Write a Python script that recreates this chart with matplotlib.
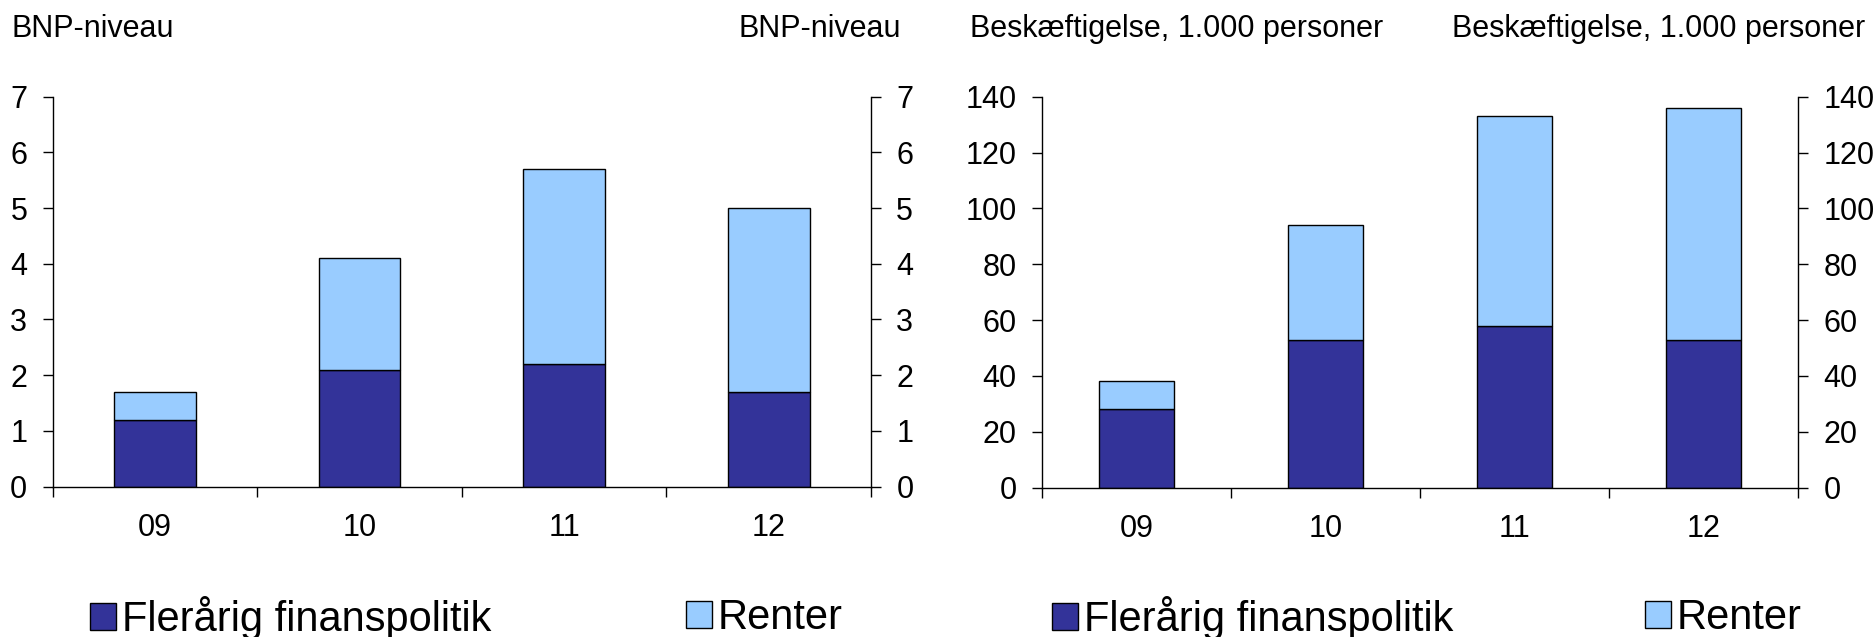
import matplotlib
matplotlib.use("Agg")
import matplotlib.pyplot as plt
import numpy as np

# ---- data ----
categories = ["09", "10", "11", "12"]
bnp_flerarig = [1.2, 2.1, 2.2, 1.7]
bnp_renter = [0.5, 2.0, 3.5, 3.3]
besk_flerarig = [28, 53, 58, 53]
besk_renter = [10, 41, 75, 83]
bnp_ticks = [0, 1, 2, 3, 4, 5, 6, 7]
besk_ticks = [0, 20, 40, 60, 80, 100, 120, 140]
series_names = ["Flerårig finanspolitik", "Renter"]
titles = ["BNP-niveau", "Beskæftigelse, 1.000 personer"]

DARK = "#333399"
LIGHT = "#99CCFF"
FONT = ["Liberation Sans", "DejaVu Sans"]
plt.rcParams["font.family"] = FONT

W, H = 1875, 637
DPI = 100
fig = plt.figure(figsize=(W / DPI, H / DPI), dpi=DPI)

TICKFS = 22


def px_axes(x0, x1, ytop, ybot):
    return fig.add_axes([x0 / W, (H - ybot) / H, (x1 - x0) / W, (ybot - ytop) / H])


def draw(ax, base, top, ticks):
    x = np.arange(len(categories))
    b1 = ax.bar(x, base, width=0.4, color=DARK, edgecolor="black", linewidth=1.0)
    b2 = ax.bar(x, top, width=0.4, bottom=base, color=LIGHT, edgecolor="black", linewidth=1.0)
    ax.set_xlim(-0.5, len(categories) - 0.5)
    ax.set_ylim(ticks[0], ticks[-1])
    ax.set_yticks(ticks)
    ax.set_xticks(x)
    ax.set_xticklabels(categories)
    ax.set_xticks(np.arange(-0.5, len(categories)), minor=True)
    ax.tick_params(axis="x", which="major", length=0, pad=19, labelsize=TICKFS)
    ax.tick_params(axis="x", which="minor", length=7.2, width=1.0, direction="out")
    ax.tick_params(axis="y", which="major", length=7.2, width=1.0, direction="out",
                   pad=11, labelsize=TICKFS, left=True, right=True,
                   labelleft=True, labelright=True)
    ax.spines["top"].set_visible(False)
    for s in ["left", "right", "bottom"]:
        ax.spines[s].set_linewidth(1.0)
    return b1, b2


axL = px_axes(52.5, 871, 96.7, 486.5)
hL = draw(axL, bnp_flerarig, bnp_renter, bnp_ticks)
axR = px_axes(1042, 1798, 96.7, 487.5)
hR = draw(axR, besk_flerarig, besk_renter, besk_ticks)

# titles
tfs = 22
fig.text(11 / W, 1 - 37 / H, titles[0], fontsize=tfs, ha="left", va="baseline")
fig.text(901 / W, 1 - 37 / H, titles[0], fontsize=tfs, ha="right", va="baseline")
fig.text(970 / W, 1 - 37 / H, titles[1], fontsize=tfs, ha="left", va="baseline")
fig.text(1865 / W, 1 - 37 / H, titles[1], fontsize=tfs, ha="right", va="baseline")

# legends
lfs = 30


def leg(handle, label, xpx):
    fig.legend([handle], [label], loc="center left",
               bbox_to_anchor=(xpx / W, 1 - 618 / H), bbox_transform=fig.transFigure,
               frameon=False, fontsize=lfs, handlelength=0.62, handleheight=0.62,
               handletextpad=0.15, borderpad=0, borderaxespad=0)


leg(hL[0], series_names[0], 90)
leg(hL[1], series_names[1], 686)
leg(hR[0], series_names[0], 1052)
leg(hR[1], series_names[1], 1645)

fig.savefig("out.png", dpi=DPI)
